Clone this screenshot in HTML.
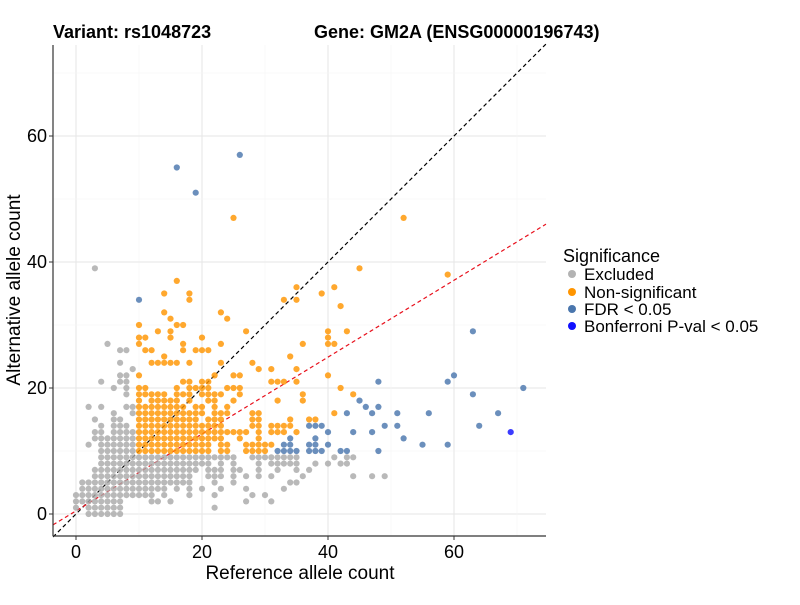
<!DOCTYPE html>
<html><head><meta charset="utf-8"><style>
body{margin:0;background:#fff;}
svg text{font-family:"Liberation Sans",sans-serif;}
</style></head><body>
<svg id="chart" width="800" height="600" viewBox="0 0 800 600" xmlns="http://www.w3.org/2000/svg">
<rect width="800" height="600" fill="#fff"/>
<g id="grid"></g>
<g id="lines"></g>
<g id="points"></g>
<line x1="53" y1="45" x2="53" y2="536" stroke="#333" stroke-width="1.2"/>
<line x1="53" y1="536" x2="546" y2="536" stroke="#333" stroke-width="1.2"/>
<g id="ticks"></g>
<text x="53" y="38" font-size="18" font-weight="bold">Variant: rs1048723</text>
<text x="314" y="38" font-size="18" font-weight="bold">Gene: GM2A (ENSG00000196743)</text>
<text x="300" y="579" font-size="19" text-anchor="middle">Reference allele count</text>
<text transform="translate(20,290) rotate(-90)" font-size="19" text-anchor="middle">Alternative allele count</text>
<g>
<text x="563" y="262" font-size="18">Significance</text>
<circle cx="572" cy="274" r="4" fill="#b3b3b3"/>
<text x="584" y="280" font-size="17">Excluded</text>
<circle cx="572" cy="292" r="4" fill="#ff9500"/>
<text x="584" y="298" font-size="17">Non-significant</text>
<circle cx="572" cy="309" r="4" fill="#4a76ad"/>
<text x="584" y="315" font-size="17">FDR &lt; 0.05</text>
<circle cx="572" cy="326" r="4" fill="#1010ff"/>
<text x="584" y="332" font-size="17">Bonferroni P-val &lt; 0.05</text>
</g>
</svg>
<script>
const xTicks=[0,20,40,60];
const yTicks=[0,20,40,60];
const excludedRows=[
[0,[2,3,4,5,6,7]],
[1,[0,2,3,4,5,6,7,22]],
[2,[0,1,2,3,4,5,6,7,12,13,15,27,31]],
[3,[0,1,2,3,4,5,6,7,8,9,10,11,12,14,18,22,28,30]],
[4,[1,2,3,4,5,6,7,8,9,10,11,12,13,14,16,18,20,23,27,33]],
[5,[1,2,3,4,5,6,7,8,9,10,11,12,13,14,15,16,17,18,22,25,34,35]],
[6,[3,4,5,6,7,8,9,10,11,12,13,14,15,16,17,18,21,22,23,25,27,29,31,36,44,47,49]],
[7,[3,4,5,6,7,8,9,10,11,12,13,14,15,16,17,18,19,21,22,23,25,26,29,32,35,37]],
[8,[4,5,6,7,8,9,10,11,12,13,14,15,16,17,18,19,20,21,23,25,29,31,32,33,34,35,38,40,42,43]],
[9,[4,5,6,7,8,9,10,11,12,13,14,15,16,17,18,19,20,21,22,23,24,25,28,29,30,31,32,33,34,35,41,43,44]],
[10,[4,5,6,7,8,9]],[11,[2,4,5,6,7,8,9]],[12,[3,4,5,6,7,8,9]],[13,[3,4,6,7,8,9]],
[14,[4,6,7,8]],[15,[3,6,7]],[16,[6,9]],[17,[2,4,8,9]],[19,[8]],[20,[6,8]],
[21,[4,7,8]],[22,[7,8]],[23,[9]],[24,[7]],[26,[7,8]],[27,[5]],[39,[3]]
];
const nonsigRows=[
[10,[10,11,12,13,14,15,16,17,18,19,20,21,23,24,27,28,29,30]],
[11,[10,11,12,13,14,15,16,17,18,19,20,21,23,24,27,28,29,30,31]],
[12,[10,11,12,13,14,15,16,17,18,19,20,21,22,23,26,29]],
[13,[10,11,12,13,14,15,16,17,18,19,20,21,22,23,24,25,26,27,29,31,32,33,35]],
[14,[10,11,12,13,14,15,16,17,18,19,20,21,22,23,28,29,31,32,33,34]],
[15,[10,11,12,13,14,15,16,17,18,19,21,22,23,28,29,34,37,38]],
[16,[10,11,12,13,14,15,16,17,18,19,20,22,23,24,28,29,41]],
[17,[10,11,12,13,14,15,16,17,19,20,22,24]],
[18,[10,12,13,14,15,16,18,21,22,25,32,36]],
[19,[10,11,12,13,14,16,17,18,20,21,22,23,26,36,44]],
[20,[10,11,16,18,19,20,21,24,25,26,42]],
[21,[17,18,20,21,31,32,33,35]],
[22,[10,22,25,26,40]],
[23,[29,31,35]],
[24,[12,13,14,15,16,18,23,28]],
[25,[14,34]],
[26,[11,12,17,19,20,21]],
[27,[10,17,23,36,40,41]],
[28,[10,11,15,20,40]],
[29,[13,15,27,40,43]],
[30,[10,16,17]],[31,[15,24]],[32,[14,23]],[33,[42]],[34,[18,33,35]],[35,[14,18,39]],
[36,[35,41]],[37,[16]],[38,[59]],[39,[45]],[47,[25,52]]
];
const fdrRows=[
[10,[32,33,34,35,37,38,39,42,43,48]],
[11,[33,34,37,38,40,55,59]],
[12,[34,38,52]],
[13,[40,44,47]],
[14,[37,38,39,49,51,64]],
[16,[43,47,51,56,67]],
[17,[46,48]],
[18,[45]],
[19,[63]],
[20,[71]],
[21,[48,59]],
[22,[60]],
[29,[63]],
[34,[10]],
[51,[19]],
[55,[16]],
[57,[26]]
];
const bonfRows=[[13,[69]]];
const lineRefs=[[0,1,"#000"],[0.5,0.61,"#e8101c"]];

const X0=76,Y0=514,K=6.3;
const xs=v=>X0+v*K, ys=v=>Y0-v*K;
const NS="http://www.w3.org/2000/svg";
function mk(t,a,p){const e=document.createElementNS(NS,t);for(const k in a)e.setAttribute(k,a[k]);p.appendChild(e);return e;}
const grid=document.getElementById('grid');
for(let v=-0;v<=70;v+=10){
 const minor=(v%20)!==0;
 const gx=mk('line',{x1:xs(v),x2:xs(v),y1:45,y2:536,stroke:minor?'#f3f3f3':'#e6e6e6','stroke-width':minor?0.6:1},grid);
 
 
 const gy=mk('line',{x1:53,x2:546,y1:ys(v),y2:ys(v),stroke:minor?'#f3f3f3':'#e6e6e6','stroke-width':minor?0.6:1},grid);
 
 
}
const ticks=document.getElementById('ticks');
xTicks.forEach(v=>{
 const l=mk('line',{x1:xs(v),x2:xs(v),y1:536,y2:540,stroke:'#333'},ticks);
 
 
 const t=mk('text',{x:xs(v),y:558,'font-size':18,'text-anchor':'middle'},ticks);t.textContent=v;
 
 
});
yTicks.forEach(v=>{
 const l=mk('line',{x1:49,x2:53,y1:ys(v),y2:ys(v),stroke:'#333'},ticks);
 
 
 const t=mk('text',{x:47,y:ys(v)+6,'font-size':18,'text-anchor':'end'},ticks);t.textContent=v;
 
 
});
const lines=document.getElementById('lines');
lineRefs.forEach(([b,m,c])=>{
 const xa=-3.65,xb=74.6;
 const l=mk('line',{x1:xs(xa),y1:ys(b+m*xa),x2:xs(xb),y2:ys(b+m*xb),stroke:c,'stroke-width':1.2,'stroke-dasharray':'4 3'},lines);
 
 
});
const pts=document.getElementById('points');
function draw(rows,color,name){
 rows.forEach(([alt,refs])=>refs.forEach(r=>{
  const c=mk('circle',{cx:xs(r),cy:ys(alt),r:3.1,fill:color,'fill-opacity':0.82},pts);
  
  
 }));
}
draw(excludedRows,'#a9a9a9','point-excluded');
draw(nonsigRows,'#ff9500','point-nonsignificant');
draw(fdrRows,'#4a76ad','point-fdr');
draw(bonfRows,'#1010ff','point-bonferroni');
</script>
</body></html>
